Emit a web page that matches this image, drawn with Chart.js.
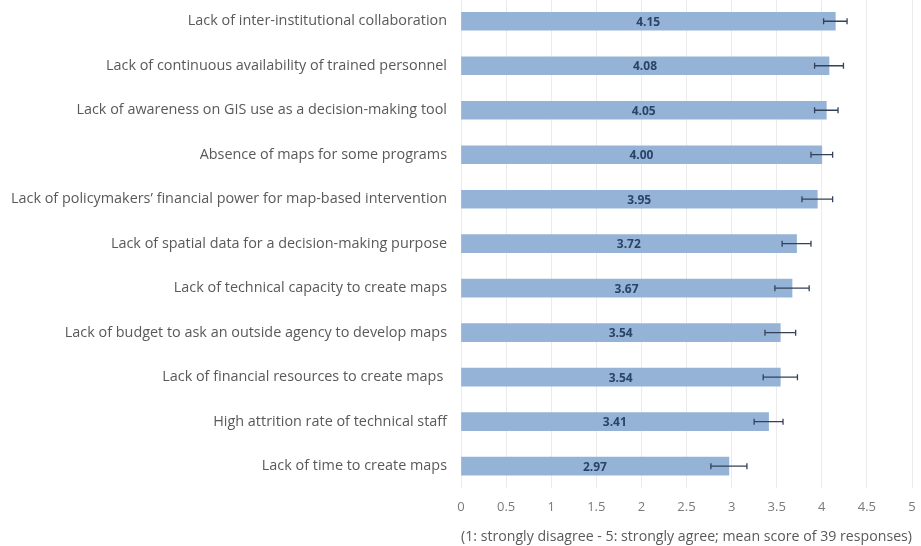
<!DOCTYPE html>
<html>
<head>
<meta charset="utf-8">
<script src="https://cdn.jsdelivr.net/npm/chart.js@4.4.1/dist/chart.umd.min.js"></script>
<style>
  html, body { margin: 0; padding: 0; background: #fff; overflow: hidden; }
  #wrap { position: relative; width: 921px; height: 547px; margin-top: -1px; }
</style>
</head>
<body>
<div id="wrap"><canvas id="chart"></canvas></div>
<script>
const categories = [
    "Lack of inter-institutional collaboration",
    "Lack of continuous availability of trained personnel",
    "Lack of awareness on GIS use as a decision-making tool",
    "Absence of maps for some programs",
    "Lack of policymakers\u2019 financial power for map-based intervention",
    "Lack of spatial data for a decision-making purpose",
    "Lack of technical capacity to create maps",
    "Lack of budget to ask an outside agency to develop maps",
    "Lack of financial resources to create maps ",
    "High attrition rate of technical staff",
    "Lack of time to create maps"
];
const meanScores = [4.15, 4.08, 4.05, 4.00, 3.95, 3.72, 3.67, 3.54, 3.54, 3.41, 2.97];
// error bar half-widths (read from the whiskers)
const errors = [0.13, 0.16, 0.13, 0.12, 0.17, 0.16, 0.19, 0.17, 0.19, 0.16, 0.20];
const xTicks = [0, 0.5, 1, 1.5, 2, 2.5, 3, 3.5, 4, 4.5, 5];
const axisNote = "(1: strongly disagree - 5: strongly agree; mean score of 39 responses)";

const FONT = "'Open Sans', 'Noto Sans', sans-serif";

// whiskers + value labels drawn over the bars
const overlay = {
    id: 'overlay',
    afterDatasetsDraw(chart) {
        const ctx = chart.ctx;
        const x = chart.scales.x;
        const meta = chart.getDatasetMeta(0);
        ctx.save();
        meta.data.forEach((bar, i) => {
            const v = meanScores[i];
            const y = bar.y;
            // value label, centred in the bar
            ctx.fillStyle = '#2a4468';
            ctx.font = "bold 12px " + FONT;
            ctx.textAlign = 'center';
            ctx.textBaseline = 'middle';
            ctx.fillText(v.toFixed(2), (x.getPixelForValue(0) + x.getPixelForValue(v)) / 2, y + 1);
            // error bar
            const x1 = x.getPixelForValue(v - errors[i]);
            const x2 = x.getPixelForValue(v + errors[i]);
            ctx.strokeStyle = '#33415a';
            ctx.lineWidth = 1.3;
            ctx.beginPath();
            ctx.moveTo(x1, y); ctx.lineTo(x2, y);
            ctx.moveTo(x1, y - 3); ctx.lineTo(x1, y + 3);
            ctx.moveTo(x2, y - 3); ctx.lineTo(x2, y + 3);
            ctx.stroke();
        });
        ctx.restore();
    }
};

new Chart(document.getElementById('chart'), {
    type: 'bar',
    data: {
        labels: categories,
        datasets: [{
            data: meanScores,
            backgroundColor: '#95b3d7',
            borderWidth: 0,
            barThickness: 18
        }]
    },
    plugins: [overlay],
    options: {
        indexAxis: 'y',
        responsive: true,
        maintainAspectRatio: false,
        animation: false,
        layout: { padding: { left: 0, right: 9, top: 0, bottom: 0 } },
        plugins: {
            legend: { display: false },
            tooltip: { enabled: false }
        },
        scales: {
            x: {
                min: 0,
                max: 5,
                afterBuildTicks(scale) { scale.ticks = xTicks.map(v => ({ value: v })); },
                afterFit(scale) { scale.paddingLeft = 0; scale.paddingRight = 0; },
                grid: { color: '#ebebeb', drawTicks: false },
                border: { display: false },
                ticks: {
                    color: '#7a7a7a',
                    padding: 11,
                    font: { family: FONT, size: 13 },
                    callback: v => String(v)
                },
                title: {
                    display: true,
                    text: axisNote,
                    color: '#595959',
                    padding: { top: 2, bottom: 0 },
                    font: { family: FONT, size: 15 }
                }
            },
            y: {
                afterFit(scale) {
                    scale.width = 461;
                    scale.paddingTop = 0;
                    scale.paddingBottom = 0;
                },
                grid: { display: false, drawTicks: false },
                border: { display: false },
                ticks: {
                    color: '#595959',
                    padding: 14,
                    font: { family: FONT, size: 14.4 }
                }
            }
        }
    }
});
</script>
</body>
</html>
